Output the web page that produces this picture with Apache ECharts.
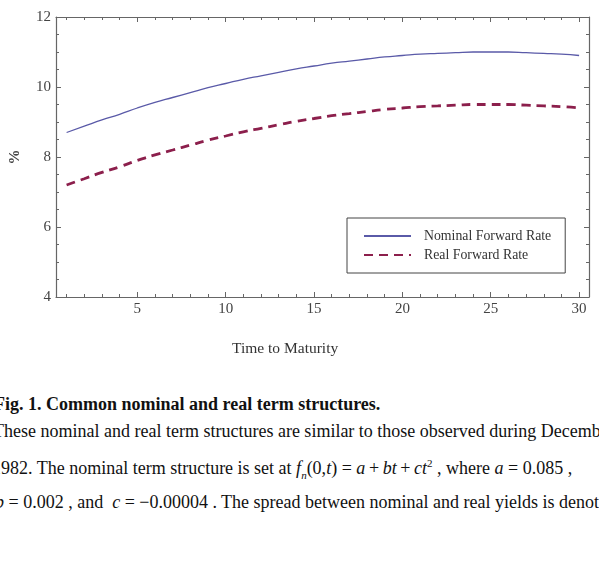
<!DOCTYPE html>
<html>
<head>
<meta charset="utf-8">
<script src="https://cdn.jsdelivr.net/npm/echarts@6.0.0/dist/echarts.min.js"></script>
<style>
  html, body { margin: 0; padding: 0; background: #fff; overflow: hidden; }
  #page { position: relative; width: 599px; height: 577px; overflow: hidden; }
  #chart { position: absolute; left: 0; top: 0; width: 599px; height: 380px; }
  .txt { position: absolute; left: -7px; white-space: nowrap; font-family: "Liberation Serif", "Times New Roman", serif; font-size: 18px; color: #111; }
  .cap { font-weight: bold; left: -6px; }
  .m { font-style: italic; }
</style>
</head>
<body>
<div id="page">
  <div id="chart"></div>
  <div class="txt cap" style="top:394px">Fig. 1. Common nominal and real term structures.</div>
  <div class="txt" style="top:421px">These nominal and real term structures are similar to those observed during December</div>
  <div class="txt" style="top:457px; left:-8px">1982. The nominal term structure is set at <span class="m">f<sub style="font-size:11px">n</sub></span>(0,<span class="m">t</span>) = <span class="m">a</span>&#8201;+&#8201;<span class="m">bt</span>&#8201;+&#8201;<span class="m">ct</span><sup style="font-size:11px">2</sup> , where <span class="m">a</span> = 0.085 ,</div>
  <div class="txt" style="top:492px; left:-5px"><span class="m">b</span> = 0.002 , and &nbsp;<span class="m">c</span> = &minus;0.00004 . The spread between nominal and real yields is denoted</div>
</div>
<script>
var maturity = [1, 2, 3, 4, 5, 6, 7, 8, 9, 10, 11, 12, 13, 14, 15,
                16, 17, 18, 19, 20, 21, 22, 23, 24, 25, 26, 27, 28, 29, 30];
var nominalRate = [8.70, 8.88, 9.06, 9.22, 9.40, 9.56, 9.70, 9.84, 9.98, 10.10,
                   10.22, 10.32, 10.42, 10.52, 10.60, 10.68, 10.74, 10.80, 10.86, 10.90,
                   10.94, 10.96, 10.98, 11.00, 11.00, 11.00, 10.98, 10.96, 10.94, 10.90];
var realRate = [7.20, 7.38, 7.56, 7.72, 7.90, 8.06, 8.20, 8.34, 8.48, 8.60,
                8.72, 8.82, 8.92, 9.02, 9.10, 9.18, 9.24, 9.30, 9.36, 9.40,
                9.44, 9.46, 9.48, 9.50, 9.50, 9.50, 9.48, 9.46, 9.44, 9.40];
var xMajorTicks = [5, 10, 15, 20, 25, 30];
var seriesNames = ['Nominal Forward Rate', 'Real Forward Rate'];

var chart = echarts.init(document.getElementById('chart'));
var serif = '"Liberation Serif", "Times New Roman", serif';
var frameColor = '#666';

function pairs(vals) {
    return maturity.map(function (t, i) { return [t, vals[i]]; });
}

function xAx(pos, ticks, len, labels, line) {
    return {
        type: 'value', position: pos, min: 0.4, max: 30.56,
        axisLine: { show: line, lineStyle: { color: frameColor, width: 1.2 } },
        axisTick: { show: true, inside: true, length: len, customValues: ticks,
                    lineStyle: { color: frameColor } },
        axisLabel: { show: labels, customValues: xMajorTicks, margin: 5,
                     color: '#444', fontFamily: serif, fontSize: 15 },
        splitLine: { show: false }
    };
}

function yAx(pos, labels) {
    return {
        type: 'value', position: pos, min: 4, max: 12, interval: 2,
        name: labels ? '%' : '', nameLocation: 'middle', nameGap: 33, nameRotate: 90,
        nameTextStyle: { color: '#444', fontFamily: serif, fontSize: 15, fontWeight: 'bold' },
        axisLine: { show: true, lineStyle: { color: frameColor, width: 1.2 } },
        axisTick: { show: true, inside: true, length: 5, lineStyle: { color: frameColor } },
        minorTick: { show: true, splitNumber: 4, length: 3, lineStyle: { color: frameColor } },
        axisLabel: { show: labels, margin: 5, color: '#444', fontFamily: serif, fontSize: 15 },
        splitLine: { show: false }
    };
}

var option = {
    backgroundColor: '#fff',
    animation: false,
    grid: { left: 47, top: 17, width: 542, height: 280 },
    xAxis: [
        xAx('bottom', xMajorTicks, 5, true, true),
        xAx('bottom', maturity, 3, false, false),
        xAx('top', xMajorTicks, 5, false, true),
        xAx('top', maturity, 3, false, false)
    ],
    yAxis: [yAx('left', true), yAx('right', false)],
    legend: {
        orient: 'vertical', left: 347, top: 218,
        padding: [11, 14, 11, 16], itemGap: 5, itemWidth: 47, itemHeight: 14,
        borderColor: '#444', borderWidth: 1,
        itemStyle: { opacity: 0 },
        textStyle: { fontFamily: serif, fontSize: 13.8, color: '#333', padding: [0, 0, 0, 8] },
        data: seriesNames
    },
    graphic: [{
        type: 'text', left: 232, top: 341,
        style: { text: 'Time to Maturity', font: '15.5px ' + serif, fill: '#333' }
    }],
    series: [
        {
            name: seriesNames[0], type: 'line', smooth: true, symbol: 'none',
            data: pairs(nominalRate),
            lineStyle: { color: '#5a5aa8', width: 1.3 },
            itemStyle: { color: '#5a5aa8' }
        },
        {
            name: seriesNames[1], type: 'line', smooth: true, symbol: 'none',
            data: pairs(realRate),
            lineStyle: { color: '#8c1f4c', width: 2.8, type: [9, 6] },
            itemStyle: { color: '#8c1f4c' }
        }
    ]
};
chart.setOption(option);
</script>
</body>
</html>
